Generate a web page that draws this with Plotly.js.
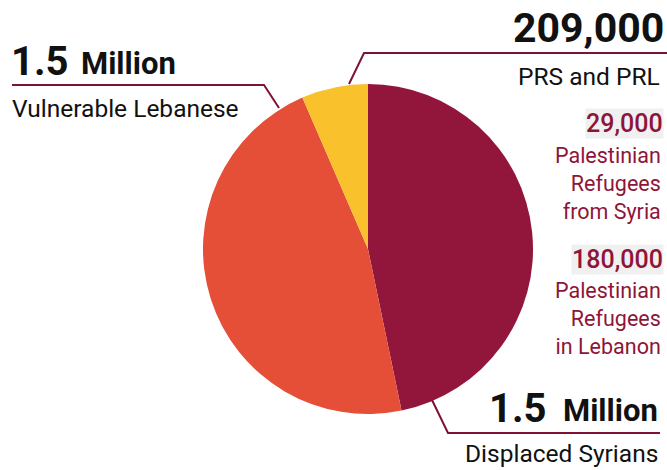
<!DOCTYPE html>
<html><head><meta charset="utf-8">
<script src="https://cdn.plot.ly/plotly-3.0.1.min.js"></script>
<style>html,body{margin:0;padding:0;background:#fff}#chart{width:667px;height:470px}</style>
</head><body><div id="chart"></div>
<script>
// ---- data ----
const categories = ["Displaced Syrians", "Vulnerable Lebanese", "PRS and PRL"];
const values = [1500000, 1500000, 209000];
const valueLabels = ["1.5", "1.5", "209,000"];
const unitLabels = ["Million", "Million", ""];
const prsParts = ["29,000", "180,000"];
const prsPartLabels = ["Palestinian<br>Refugees<br>from Syria", "Palestinian<br>Refugees<br>in Lebanon"];

// ---- style ----
const sliceColors = ["#92163B", "#E54F37", "#F9C22D"];
const dark = "#8E1538";
const W = 667, H = 470;
const px = x => x / W, py = y => 1 - y / H;
const FONT = "Roboto, 'Noto Sans', sans-serif";

const trace = {
  type: "pie", labels: categories, values: values, sort: false,
  direction: "clockwise", rotation: 0, textinfo: "none", hoverinfo: "label+value",
  marker: {colors: sliceColors, line: {width: 0}},
  domain: {x: [px(203), px(533)], y: [py(414), py(84)]},
  showlegend: false
};

function ann(x, y, text, size, opts) {
  return Object.assign({xref: "paper", yref: "paper", x: px(x), y: py(y), text: text,
    showarrow: false, xanchor: "left", yanchor: "middle", borderpad: 0,
    font: {family: FONT, size: size, color: "#111"}}, opts || {});
}

const annotations = [
  // Vulnerable Lebanese (left)
  ann(10, 62, "<b>" + valueLabels[1] + "</b>", 40),
  ann(80, 63, "<b>" + unitLabels[1] + "</b>", 31),
  ann(11, 108, categories[1], 24.5),
  // PRS and PRL (top right)
  ann(665, 28, "<b>" + valueLabels[2] + "</b>", 41, {xanchor: "right"}),
  ann(661, 76, categories[2], 24.5, {xanchor: "right"}),
  ann(664, 124, prsParts[0], 25, {xanchor: "right", bgcolor: "#f0f0f0", font: {family: FONT, size: 25, color: dark, weight: 500}}),
  ann(662, 183, prsPartLabels[0], 21.5, {xanchor: "right", align: "right", font: {family: FONT, size: 21.5, color: dark}}),
  ann(664, 259, prsParts[1], 25, {xanchor: "right", bgcolor: "#f0f0f0", font: {family: FONT, size: 25, color: dark, weight: 500}}),
  ann(662, 318, prsPartLabels[1], 21.5, {xanchor: "right", align: "right", font: {family: FONT, size: 21.5, color: dark}}),
  // Displaced Syrians (bottom right)
  ann(548, 408, "<b>" + valueLabels[0] + "</b>", 40, {xanchor: "right"}),
  ann(659, 410, "<b>" + unitLabels[0] + "</b>", 31, {xanchor: "right"}),
  ann(659, 453, categories[0], 24.5, {xanchor: "right"})
];

function path(pts) {
  return "M " + pts.map(p => px(p[0]) + "," + py(p[1])).join(" L ");
}
const lineStyle = {color: "#7E1236", width: 2};
const shapes = [
  {type: "path", xref: "paper", yref: "paper", path: path([[12, 85], [264, 85], [279, 108]]), line: lineStyle},
  {type: "path", xref: "paper", yref: "paper", path: path([[667, 53], [364, 53], [349, 84]]), line: lineStyle},
  {type: "path", xref: "paper", yref: "paper", path: path([[432, 400], [448, 433], [660, 433]]), line: lineStyle}
];

Plotly.newPlot("chart", [trace], {
  width: W, height: H, margin: {l: 0, r: 0, t: 0, b: 0},
  paper_bgcolor: "#fff", plot_bgcolor: "#fff",
  annotations: annotations, shapes: shapes
}, {displayModeBar: false, staticPlot: true});
</script></body></html>
